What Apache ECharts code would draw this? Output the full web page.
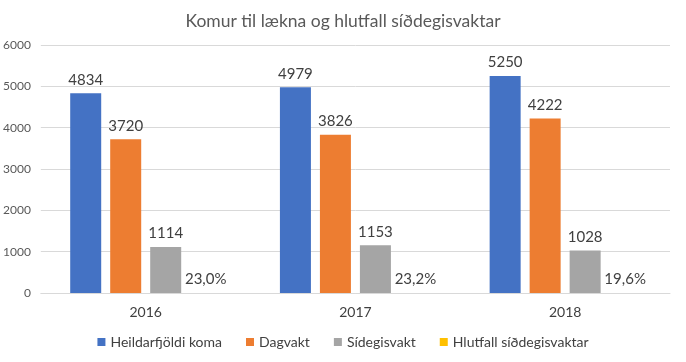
<!DOCTYPE html>
<html><head><meta charset="utf-8">
<script src="https://cdn.jsdelivr.net/npm/echarts@6/dist/echarts.min.js"></script>
<style>html,body{margin:0;padding:0;background:#fff}#c{width:686px;height:362px}</style>
</head><body><div id="c"></div>
<script>
const categories = ['2016', '2017', '2018'];
const heildar = [4834, 4979, 5250];
const dagvakt = [3720, 3826, 4222];
const sidegis = [1114, 1153, 1028];
const hlutfall = [0.230, 0.232, 0.196];
const yTicks = [0, 1000, 2000, 3000, 4000, 5000, 6000];
const seriesNames = ['Heildarfjöldi koma', 'Dagvakt', 'Sídegisvakt', 'Hlutfall síðdegisvaktar'];

const FONT = 'Lato, "Open Sans", sans-serif';
const chart = echarts.init(document.getElementById('c'));
const lbl = { show: true, position: 'top', color: '#404040', fontSize: 15, fontFamily: FONT, distance: 6 };
function mk(name, data, color, fmt) {
  return { name, type: 'bar', data, itemStyle: { color },
    barGap: '29%', barCategoryGap: '28%',
    label: Object.assign({}, lbl, fmt ? { formatter: fmt } : {}) };
}
chart.setOption({
  animation: false,
  title: { text: 'Komur til lækna og hlutfall síðdegisvaktar', left: 'center', top: 7,
    textStyle: { color: '#595959', fontSize: 17.5, fontWeight: 'normal', fontFamily: FONT } },
  legend: { bottom: 8, itemWidth: 8, itemHeight: 8, itemGap: 24, icon: 'rect',
    textStyle: { color: '#404040', fontSize: 14, fontFamily: FONT } },
  grid: { left: 40, right: 16, top: 45, bottom: 69 },
  xAxis: { type: 'category', data: categories,
    axisLine: { lineStyle: { color: '#D9D9D9' } }, axisTick: { show: false },
    axisLabel: { color: '#404040', fontSize: 14, fontFamily: FONT, margin: 12 } },
  yAxis: { type: 'value', min: yTicks[0], max: yTicks[yTicks.length - 1], interval: 1000,
    axisLabel: { color: '#595959', fontSize: 12, fontFamily: FONT, margin: 10, formatter: v => String(v) },
    splitLine: { lineStyle: { color: '#D9D9D9' } } },
  series: [
    mk(seriesNames[0], heildar, '#4472C4'),
    mk(seriesNames[1], dagvakt, '#ED7D31'),
    mk(seriesNames[2], sidegis, '#A5A5A5'),
    mk(seriesNames[3], hlutfall, '#FFC000', p => (p.value * 100).toFixed(1).replace('.', ',') + '%')
  ]
});
</script></body></html>
